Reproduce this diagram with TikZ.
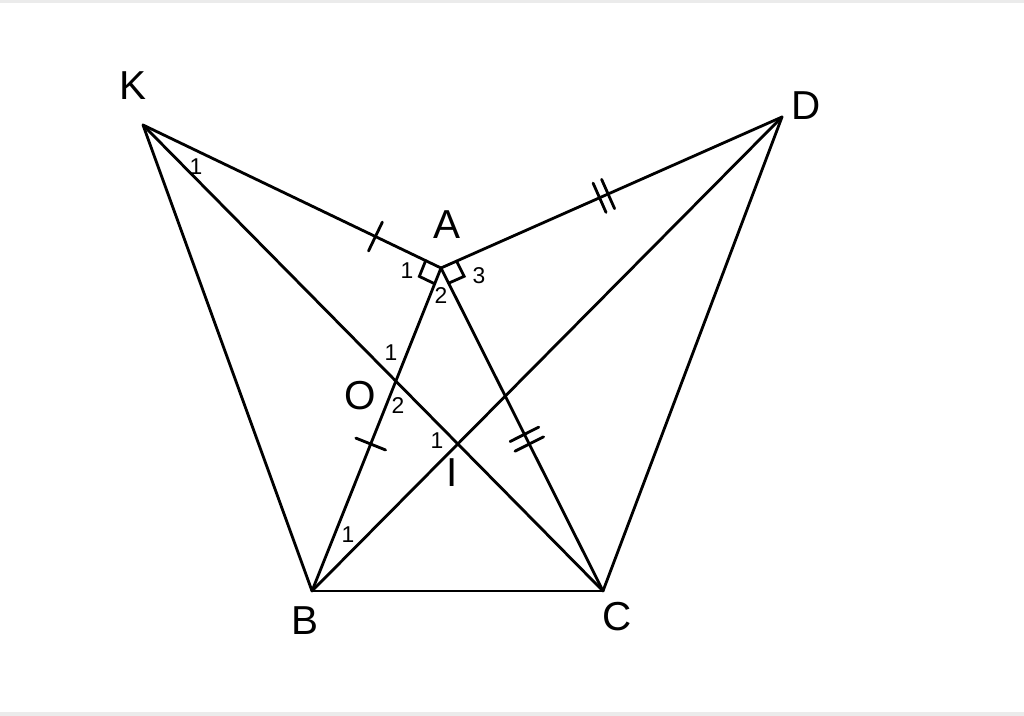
\documentclass[tikz,border=0pt]{standalone}
\usepackage{fontspec}
\setmainfont{Liberation Sans}
\usetikzlibrary{calc}

\tikzset{
    seg/.style={line width=0.8pt, line cap=round},
    ptlabel/.style={font=\fontsize{11.5}{12}\selectfont, inner sep=0pt},
    anglabel/.style={font=\fontsize{6.5}{7}\selectfont, inner sep=0pt}
}

% one tick across X--Y at fraction #3
\newcommand{\marktick}[3]{%
    \draw[seg] ($(#1)!#3!(#2)!0.16cm!90:(#2)$) -- ($(#1)!#3!(#2)!0.16cm!-90:(#2)$);}

\begin{document}
\begin{tikzpicture}[x=0.01cm, y=-0.01cm]
        \useasboundingbox (0,0) rectangle (1024,716);
        \fill[black!8] (0,0) rectangle (1024,3);
        \fill[black!8] (0,712) rectangle (1024,716);

        \coordinate (K) at (143,125);
        \coordinate (D) at (782,117);
        \coordinate (A) at (441,268);
        \coordinate (B) at (312,591);
        \coordinate (C) at (603,591);
        \coordinate (O) at (intersection of K--C and A--B);
        \coordinate (I) at (intersection of K--C and B--D);

        \foreach \p/\q in {K/A, K/B, K/C, A/B, A/C, A/D, D/B, D/C, B/C}
            \draw[seg] (\p) -- (\q);

        % right angles at A
        \draw[seg] ($(A)!0.17cm!(K)$) -- ($(A)!0.17cm!(K)+(A)!0.17cm!(B)-(A)$) -- ($(A)!0.17cm!(B)$);
        \draw[seg] ($(A)!0.17cm!(D)$) -- ($(A)!0.17cm!(D)+(A)!0.17cm!(C)-(A)$) -- ($(A)!0.17cm!(C)$);

        % equal segments
        \marktick{K}{A}{0.78}
        \marktick{A}{B}{0.545}
        \marktick{A}{D}{0.465}
        \marktick{A}{D}{0.49}
        \marktick{A}{C}{0.515}
        \marktick{A}{C}{0.545}

        \node[ptlabel] (lK) at (133,86) {K};
        \node[ptlabel] (lD) at (806,106) {D};
        \node[ptlabel] (lA) at (447,225) {A};
        \node[ptlabel] (lB) at (305,621) {B};
        \node[ptlabel] (lC) at (617,617) {C};
        \node[ptlabel] (lO) at (360,396) {O};
        \node[ptlabel] (lI) at (452,473) {I};

        \node[anglabel] (k1) at (196,167) {1};
        \node[anglabel] (a1) at (407,271) {1};
        \node[anglabel] (a2) at (441,296) {2};
        \node[anglabel] (a3) at (479,276) {3};
        \node[anglabel] (o1) at (391,353) {1};
        \node[anglabel] (o2) at (398,406) {2};
        \node[anglabel] (i1) at (437,441) {1};
        \node[anglabel] (b1) at (348,535) {1};

    \end{tikzpicture}
\end{document}
